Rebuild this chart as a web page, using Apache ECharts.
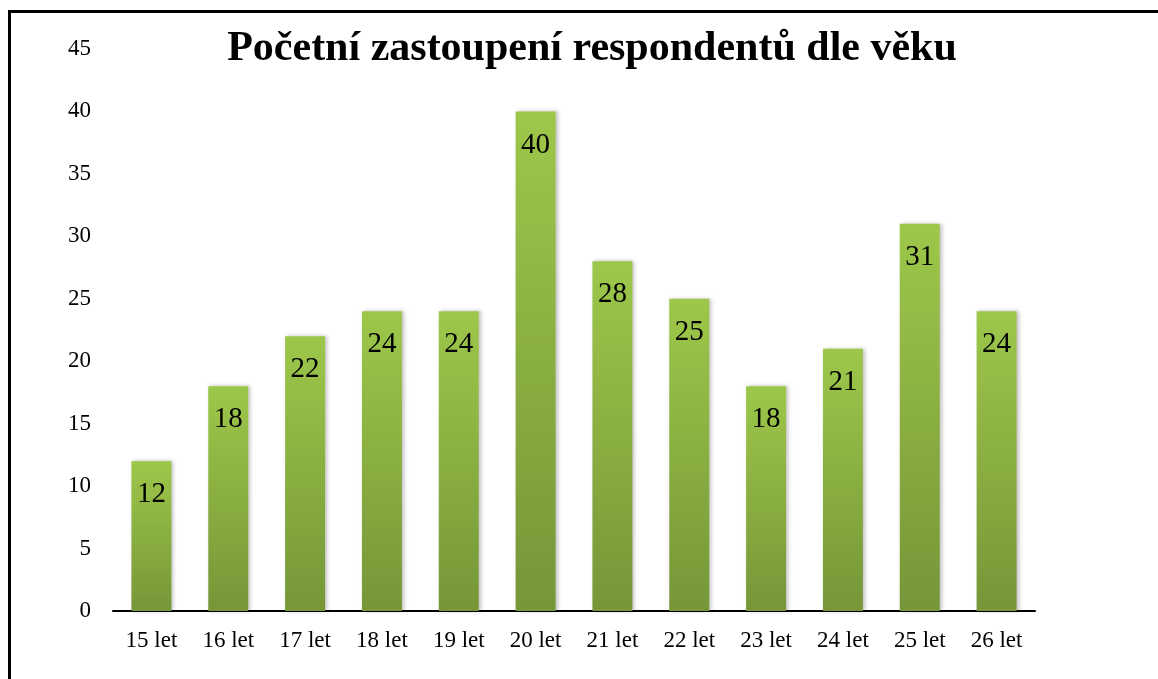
<!DOCTYPE html>
<html><head><meta charset="utf-8">
<script src="https://cdn.jsdelivr.net/npm/echarts@6/dist/echarts.min.js"></script>
<style>html,body{margin:0;padding:0;background:#fff}#c{width:1158px;height:679px}</style>
</head><body><div id="c"></div>
<script>
const categories = ["15 let","16 let","17 let","18 let","19 let","20 let","21 let","22 let","23 let","24 let","25 let","26 let"];
const values = [12,18,22,24,24,40,28,25,18,21,31,24];
const titleText = "Početní zastoupení respondentů dle věku";
const chart = echarts.init(document.getElementById('c'));
const serif = '"Liberation Serif", "DejaVu Serif", serif';
chart.setOption({
  backgroundColor: '#fff',
  animation: false,
  title: {text: titleText, left: 587, top: 23, textAlign: 'center',
    textStyle: {fontFamily: serif, fontWeight: 'bold', fontSize: 42, color: '#000'}},
  graphic: [{type: 'rect', shape: {x: 9.5, y: 11.5, width: 1200, height: 800},
    style: {fill: 'none', stroke: '#000', lineWidth: 3}}],
  grid: {left: 113, right: 123, top: 49, bottom: 68},
  xAxis: {type: 'category', data: categories,
    axisLine: {lineStyle: {color: '#000', width: 2}}, axisTick: {show: false},
    axisLabel: {fontFamily: serif, fontSize: 23, color: '#000', margin: 18}},
  yAxis: {type: 'value', min: 0, max: 45, interval: 5,
    axisLine: {show: false}, axisTick: {show: false}, splitLine: {show: false},
    axisLabel: {fontFamily: serif, fontSize: 23, color: '#000', margin: 22}},
  series: [{type: 'bar', data: values, barWidth: '52%',
    itemStyle: {color: new echarts.graphic.LinearGradient(0,0,0,1,[{offset:0,color:'#9dc74a'},{offset:1,color:'#769638'}]),
      shadowColor: 'rgba(0,0,0,0.25)', shadowBlur: 4, shadowOffsetX: 2},
    label: {show: true, position: 'insideTop', distance: 19, fontFamily: serif, fontSize: 29, color: '#000'}}]
});
</script></body></html>
